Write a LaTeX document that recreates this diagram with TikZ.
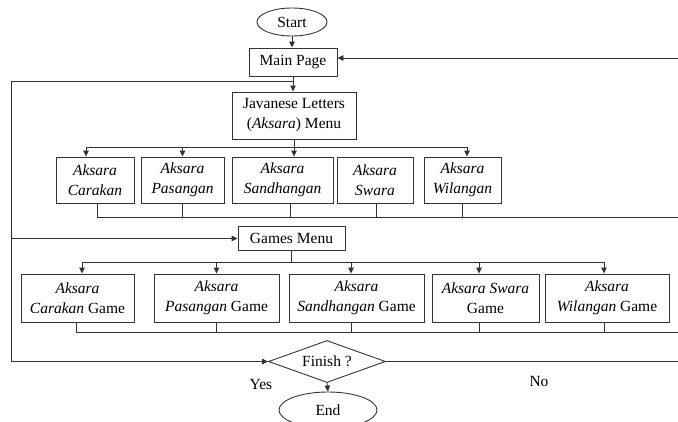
\documentclass[tikz,border=0pt]{standalone}
\usepackage{fontspec}
\setmainfont{Liberation Serif}
\usetikzlibrary{arrows.meta,shapes.geometric}
\begin{document}
\begin{tikzpicture}[x=1pt,y=-1pt,
  line/.style={draw=black!80,line width=0.9pt},
  arr/.style={line,-{Triangle[length=6pt,width=5.5pt]}},
  txt/.style={font=\fontsize{15.5}{20}\selectfont},
  box/.style={draw=black!80,line width=0.9pt,rectangle,inner sep=0pt,align=center,txt},
  oval/.style={draw=black!80,line width=0.9pt,ellipse,inner sep=0pt,txt},
  lbl/.style={inner sep=0pt,txt}]
\useasboundingbox (0,0) rectangle (678,421);
% top nodes
\node[oval,minimum width=70pt,minimum height=28pt] (start) at (292,22) {Start};
\node[box,minimum width=88pt,minimum height=28pt] (main) at (293,62) {Main Page};
\node[box,minimum width=124pt,minimum height=47pt] (java) at (294,115.5) {Javanese Letters\\(\textit{Aksara}) Menu};
% row 1
\node[box,minimum width=78pt,minimum height=46pt] (c1) at (95,180) {\textit{Aksara}\\\textit{Carakan}};
\node[box,minimum width=83pt,minimum height=46pt] (c2) at (182.5,180) {\textit{Aksara}\\\textit{Pasangan}};
\node[box,minimum width=101pt,minimum height=46pt] (c3) at (282.5,180) {\textit{Aksara}\\\textit{Sandhangan}};
\node[box,minimum width=76pt,minimum height=46pt] (c4) at (375,180) {\textit{Aksara}\\\textit{Swara}};
\node[box,minimum width=77pt,minimum height=46pt] (c5) at (462.5,180) {\textit{Aksara}\\\textit{Wilangan}};
% games menu
\node[box,minimum width=107pt,minimum height=24pt] (gm) at (291.5,238.5) {Games Menu};
% row 2
\node[box,minimum width=113pt,minimum height=48pt] (g1) at (77.5,298) {\textit{Aksara}\\\textit{Carakan} Game};
\node[box,minimum width=125pt,minimum height=48pt] (g2) at (216.5,298) {\textit{Aksara}\\\textit{Pasangan} Game};
\node[box,minimum width=135pt,minimum height=48pt] (g3) at (356.5,298) {\textit{Aksara}\\\textit{Sandhangan} Game};
\node[box,minimum width=107pt,minimum height=48pt] (g4) at (485.5,298) {\textit{Aksara Swara}\\Game};
\node[box,minimum width=124pt,minimum height=48pt] (g5) at (607,298) {\textit{Aksara}\\\textit{Wilangan} Game};
% decision and end
\node[draw=black!80,line width=0.9pt,diamond,aspect=2.8,inner sep=0pt,minimum width=117pt,minimum height=42pt,txt] (fin) at (327,361.5) {Finish ?};
\node[oval,minimum width=98pt,minimum height=36pt] (end) at (328,410) {End};
\node[lbl] (yes) at (261,384) {Yes};
\node[lbl] (no) at (539,381) {No};
% helper coordinates
\coordinate (lt) at (11,81);
\coordinate (rt) at (678,58);
\coordinate (b1) at (0,147);
\coordinate (j1) at (0,217);
\coordinate (b2) at (0,262);
\coordinate (j2) at (0,332);
% connectors top
\draw[arr] (start.south) -- (start.south |- main.north);
\draw[arr] (main.south) -- (main.south |- java.north);
\draw[arr] (rt) -- (main.east |- rt);
\draw[arr] (main.south |- lt) -- (lt) -- (lt |- fin.west) -- (fin.west);
\draw[arr] (lt |- gm.west) -- (gm.west);
% row 1 branching
\draw[line] (java.south) -- (java.south |- b1);
\draw[line] ([xshift=-9pt]c1.north |- b1) -- ([xshift=4.5pt]c5.north |- b1);
\draw[arr] ([xshift=-9pt]c1.north |- b1) -- ([xshift=-9pt]c1.north);
\draw[arr] (c2.north |- b1) -- (c2.north);
\draw[arr] (java.south |- b1) -- (java.south |- c3.north);
\draw[arr] ([xshift=4.5pt]c5.north |- b1) -- ([xshift=4.5pt]c5.north);
% row 1 joining
\draw[line] ([xshift=2pt]c1.south) -- ([xshift=2pt]c1.south |- j1) -- (rt |- j1);
\draw[line] (c2.south) -- (c2.south |- j1);
\draw[line] ([xshift=7.5pt]c3.south) -- ([xshift=7.5pt]c3.south |- j1);
\draw[line] ([xshift=1pt]c4.south) -- ([xshift=1pt]c4.south |- j1);
\draw[line] (c5.south) -- (c5.south |- j1);
% row 2 branching
\draw[line] (gm.south) -- (gm.south |- b2);
\draw[line] ([xshift=4.5pt]g1.north |- b2) -- ([xshift=-3pt]g5.north |- b2);
\draw[arr] ([xshift=4.5pt]g1.north |- b2) -- ([xshift=4.5pt]g1.north);
\draw[arr] (g2.north |- b2) -- (g2.north);
\draw[arr] ([xshift=-5.5pt]g3.north |- b2) -- ([xshift=-5.5pt]g3.north);
\draw[arr] ([xshift=-6.5pt]g4.north |- b2) -- ([xshift=-6.5pt]g4.north);
\draw[arr] ([xshift=-3pt]g5.north |- b2) -- ([xshift=-3pt]g5.north);
% row 2 joining
\draw[line] ([xshift=-1.5pt]g1.south) -- ([xshift=-1.5pt]g1.south |- j2) -- (rt |- j2);
\draw[line] (g2.south) -- (g2.south |- j2);
\draw[line] ([xshift=-5.5pt]g3.south) -- ([xshift=-5.5pt]g3.south |- j2);
\draw[line] ([xshift=-6.5pt]g4.south) -- ([xshift=-6.5pt]g4.south |- j2);
\draw[line] ([xshift=-3pt]g5.south) -- ([xshift=-3pt]g5.south |- j2);
% decision
\draw[line] (fin.east) -- (fin.east -| rt);
\draw[arr] (fin.south) -- (end.north);
\end{tikzpicture}
\end{document}
